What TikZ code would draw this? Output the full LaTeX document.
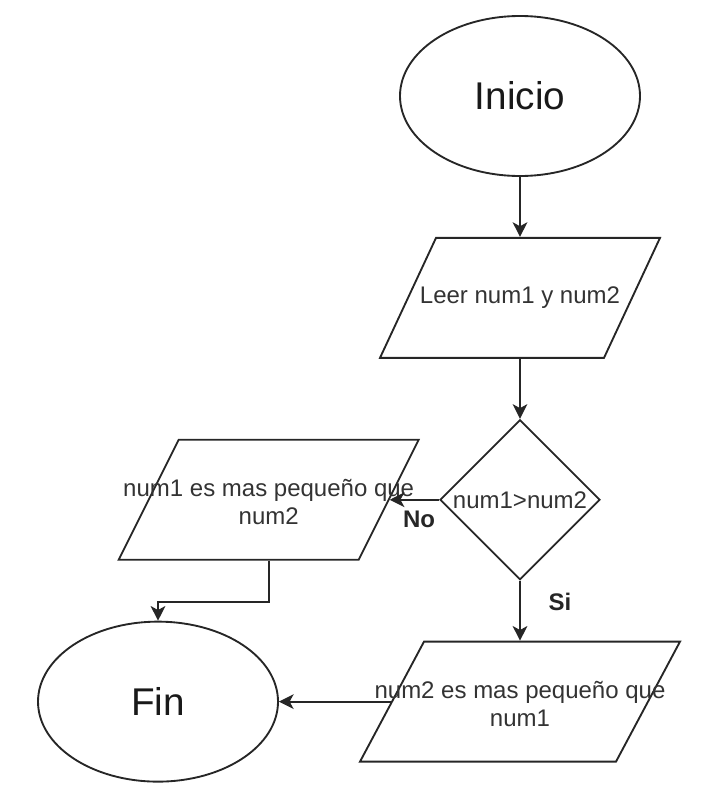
\documentclass[tikz,border=0pt]{standalone}
\usepackage{fontspec}
\setmainfont{Liberation Sans}
\setsansfont{Liberation Sans}
\usepackage{tikz}
\usetikzlibrary{shapes, arrows.meta, positioning, calc}

\begin{document}
\begin{tikzpicture}[
    font=\sffamily,
    line width=1.4pt,
    terminal/.style={
        draw=black!85,
        ellipse,
        minimum width=180pt,
        minimum height=120pt,
        text=black!90,
        font=\sffamily\fontsize{29}{34}\selectfont
    },
    io/.style n args={3}{
        draw=black!85,
        trapezium,
        trapezium left angle=#1,
        trapezium right angle=#2,
        inner xsep=#3,
        inner ysep=45pt
    },
    decision/.style={
        draw=black!85,
        diamond,
        minimum width=120pt,
        minimum height=120pt,
        inner sep=0pt
    },
    txt/.style={
        text=black!80,
        align=center,
        font=\sffamily\fontsize{18}{21}\selectfont
    },
    tag/.style={
        text=black!85,
        font=\sffamily\bfseries\fontsize{18}{21}\selectfont
    },
    flow/.style={
        draw=black!85,
        -{Stealth[length=11pt, width=11pt, inset=3pt]}
    }
]

\useasboundingbox (0,0) rectangle (543.75pt,-602.25pt);

% Inicio
\node[terminal] (inicio) at (390pt,-72pt) {Inicio};

% Leer
\node[io={64.98}{115.02}{63pt}, below=45pt of inicio] (leer) {};
\node[txt] (leer_txt) at (leer.center) {Leer num1 y num2};

% Decision
\node[decision, below=45pt of leer] (dec) {};
\node[txt] (dec_txt) at (dec.center) {num1>num2};

% Salidas
\node[io={63.43}{116.57}{67.5pt}, left=37pt of dec] (menor1) {};
\node[txt] (menor1_txt) at ([yshift=-1.5pt]menor1.center) {num1 es mas pequeño que\\num2};

\node[io={61.93}{118.07}{72pt}, below=45pt of dec] (menor2) {};
\node[txt] (menor2_txt) at ([yshift=-1.5pt]menor2.center) {num2 es mas pequeño que\\num1};

% Fin
\node[terminal, left=84pt of menor2] (fin) {Fin};

% Connections
\draw[flow] (inicio) -- (leer);
\draw[flow] (leer) -- (dec);
\draw[flow] (dec) -- (menor2);
\draw[flow] (dec.west) -- (menor1.east);
\draw[flow] (menor2.west) -- (fin.east);
\draw[flow] (menor1.south) -- ++(0,-31pt) -| (fin.north);

% Labels
\node[tag] (no_tag) at ([xshift=-15pt, yshift=-15pt]dec.west) {No};
\node[tag] (si_tag) at ([xshift=30pt, yshift=-16pt]dec.south) {Si};

\end{tikzpicture}
\end{document}
